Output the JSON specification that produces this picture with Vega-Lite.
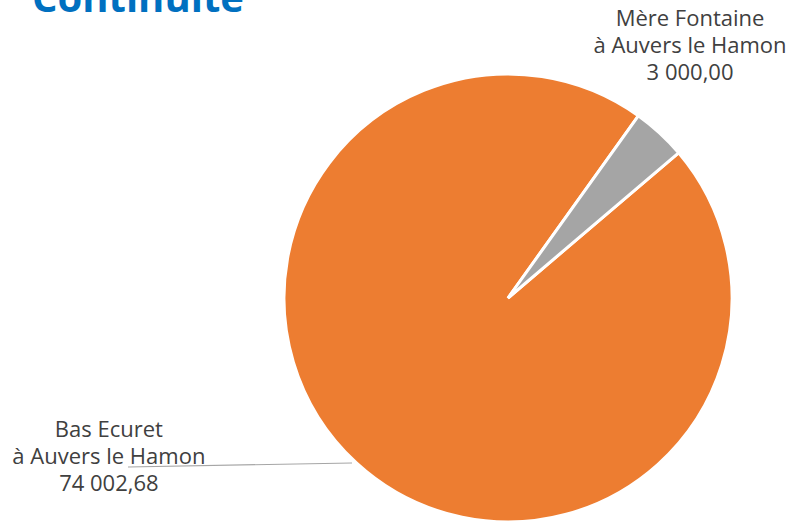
{
  "$schema": "https://vega.github.io/schema/vega-lite/v6.json",
  "autosize": {"type": "none"},
  "width": 448,
  "height": 448,
  "padding": {"left": 284, "top": 74, "right": 64, "bottom": 0},
  "background": "white",
  "view": {"stroke": null},
  "title": {
    "text": "Continuité",
    "anchor": "start",
    "frame": "group",
    "align": "left",
    "baseline": "alphabetic",
    "offset": 0,
    "dy": 44,
    "dx": -252,
    "font": "Open Sans",
    "fontSize": 40,
    "fontWeight": "bold",
    "color": "#0070C0"
  },
  "data": {
    "values": [
      {"name": "Bas Ecuret à Auvers le Hamon", "value": 74002.68, "label": "Bas Ecuret\nà Auvers le Hamon\n74 002,68"},
      {"name": "Mère Fontaine à Auvers le Hamon", "value": 3000.00, "label": "Mère Fontaine\nà Auvers le Hamon\n3 000,00"}
    ]
  },
  "encoding": {
    "theta": {"field": "value", "type": "quantitative", "stack": true, "scale": {"range": [0.621, 6.9042]}},
    "order": {"field": "value", "type": "quantitative", "sort": "ascending"}
  },
  "layer": [
    {
      "mark": {"type": "arc", "stroke": "white", "strokeWidth": 3},
      "encoding": {
        "color": {
          "field": "name",
          "type": "nominal",
          "scale": {"domain": ["Bas Ecuret à Auvers le Hamon", "Mère Fontaine à Auvers le Hamon"], "range": ["#ED7D31", "#A5A5A5"]},
          "legend": null
        }
      }
    },
    {
      "transform": [{"filter": "datum.value < 10000"}],
      "mark": {"type": "text", "radius": 300, "dx": -21, "dy": -58, "lineBreak": "\n", "lineHeight": 27, "font": "Open Sans", "fontSize": 22, "fill": "#404040", "align": "center", "baseline": "middle"},
      "encoding": {"text": {"field": "label"}}
    },
    {
      "transform": [{"filter": "datum.value > 10000"}],
      "mark": {"type": "text", "radius": 224, "dx": -292, "dy": -65, "lineBreak": "\n", "lineHeight": 27, "font": "Open Sans", "fontSize": 22, "fill": "#404040", "align": "center", "baseline": "middle"},
      "encoding": {"text": {"field": "label"}}
    },
    {
      "data": {"values": [{}]},
      "mark": {"type": "rule", "stroke": "#A6A6A6", "strokeWidth": 1.2},
      "encoding": {
        "x": {"value": -156},
        "x2": {"value": 68},
        "y": {"value": 393},
        "y2": {"value": 389}
      }
    }
  ]
}
